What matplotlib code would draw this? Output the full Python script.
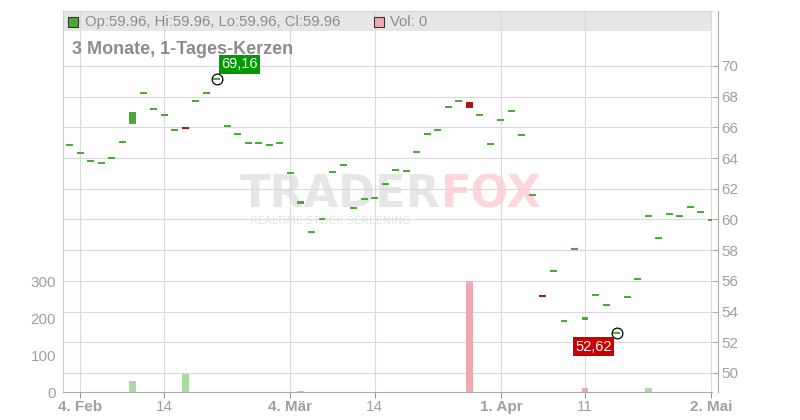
import matplotlib
matplotlib.use('Agg')
import matplotlib.pyplot as plt
from matplotlib.patches import Rectangle
import numpy as np
import pandas as pd

plt.rcParams['font.family'] = ['Liberation Sans', 'DejaVu Sans']

# trading days (German holidays left out)
holidays = ['2025-04-18', '2025-04-21', '2025-05-01']
dates = pd.bdate_range('2025-02-03', '2025-05-02')
dates = dates[~dates.isin(pd.to_datetime(holidays))]

closes = [64.83, 64.31, 63.81, 63.66, 63.99, 65.03, 67.00, 68.22, 67.18, 66.79,
          65.81, 65.90, 67.70, 68.22, 69.16, 66.07, 65.55, 64.96, 64.96, 64.83,
          64.96, 63.00, 61.20, 59.17, 60.00, 63.08, 63.53, 60.73, 61.32, 61.38,
          62.29, 63.20, 63.14, 64.38, 65.55, 65.81, 67.31, 67.70, 67.28, 66.79,
          64.90, 66.46, 67.05, 65.48, 61.58, 54.97, 56.62, 53.37, 58.06, 53.65,
          55.06, 54.41, 52.62, 54.93, 56.10, 60.21, 58.78, 60.34, 60.21, 60.80,
          60.47, 59.96]
opens = [64.83, 64.31, 63.81, 63.66, 63.99, 65.03, 66.24, 68.22, 67.18, 66.79,
         65.81, 65.98, 67.70, 68.22, 69.16, 66.07, 65.55, 64.96, 64.96, 64.83,
         64.96, 63.00, 61.03, 59.17, 60.00, 63.08, 63.53, 60.73, 61.32, 61.38,
         62.29, 63.20, 63.14, 64.38, 65.55, 65.81, 67.31, 67.70, 67.65, 66.79,
         64.90, 66.46, 67.05, 65.48, 61.58, 55.08, 56.62, 53.37, 58.06, 53.47,
         55.06, 54.41, 52.62, 54.93, 56.10, 60.21, 58.78, 60.34, 60.21, 60.80,
         60.47, 59.96]
volumes = [0, 0, 0, 0, 0, 0, 30, 0, 0, 0,
           0, 50, 0, 0, 0, 0, 0, 0, 0, 0,
           0, 0, 3, 0, 0, 0, 0, 0, 0, 0,
           0, 0, 0, 0, 0, 0, 0, 0, 300, 0,
           0, 0, 0, 0, 0, 0, 0, 0, 0, 10,
           0, 0, 0, 0, 0, 10, 0, 0, 0, 0,
           0, 0]

tick_dates = ['2025-02-04', '2025-02-14', '2025-03-04', '2025-03-14',
              '2025-04-01', '2025-04-11', '2025-05-02']
tick_labels = ['4. Feb', '14', '4. Mär', '14', '1. Apr', '11', '2. Mai']
price_ticks = list(range(50, 71, 2))
vol_ticks = [0, 100, 200, 300]

x = np.arange(len(dates))
o = np.array(opens)
c = np.array(closes)
bottoms = np.minimum(o, c)
heights = np.abs(c - o)
thin = heights < 0.13
bottoms[thin] = (o[thin] + c[thin]) / 2 - 0.065
heights[thin] = 0.13
candle_colors = ['#4aaa35' if cc >= oo else '#b01515' for oo, cc in zip(opens, closes)]
prev = np.r_[c[0], c[:-1]]
vol_colors = ['#a8dba0' if cc >= pp else '#f0a8b2' for cc, pp in zip(c, prev)]

fig = plt.figure(figsize=(8, 4.2), dpi=100)
ax = fig.add_axes([63/800, 28/420, 649/800, 381/420])
ax_v = ax.twinx()

# candles
ax.bar(x, heights, 0.66, bottom=bottoms, color=candle_colors, zorder=3)

# high / low markers
i_hi = int(np.argmax(c))
i_lo = int(np.argmin(c))
ax.plot([x[i_hi], x[i_lo]], [c[i_hi], c[i_lo]], 'o', mfc='none', mec='black',
        ms=7.7, mew=0.9, zorder=4)
ax.annotate(f'{c[i_hi]:.2f}'.replace('.', ','), (x[i_hi], c[i_hi]),
            xytext=(4.5, 7.5), textcoords='offset pixels', ha='left', va='bottom',
            color='white', fontsize=10.5,
            bbox=dict(boxstyle='square,pad=0.15', fc='#009900', ec='none'), zorder=5)
ax.annotate(f'{c[i_lo]:.2f}'.replace('.', ','), (x[i_lo], c[i_lo]),
            xytext=(-4.9, -6.9), textcoords='offset pixels', ha='right', va='top',
            color='white', fontsize=10.5,
            bbox=dict(boxstyle='square,pad=0.15', fc='#cc0000', ec='none'), zorder=5)

# volume
ax_v.bar(x, volumes, 0.66, color=vol_colors)

ax.set_xlim(-0.62, 61.07)
ax.set_ylim(48.76, 73.58)
ax_v.set_ylim(0, 1030)

ax.set_xticks([dates.get_loc(pd.Timestamp(d)) for d in tick_dates])
ax.set_xticklabels(tick_labels)
for lbl in ax.get_xticklabels():
    if not lbl.get_text().isdigit():
        lbl.set_fontweight('bold')
ax.yaxis.tick_right()
ax.set_yticks(price_ticks)
ax_v.yaxis.tick_left()
ax_v.set_yticks(vol_ticks)

ax.grid(True, color='#d9d9d9', lw=0.8)
ax.set_axisbelow(True)

ax.tick_params(axis='y', direction='in', length=4, color='#aaaaaa',
               labelcolor='#a0a0a0', labelsize=11, pad=3)
ax.tick_params(axis='x', length=4, color='#999999', labelcolor='#a0a0a0',
               labelsize=11, pad=2)
ax_v.tick_params(axis='y', length=0, labelcolor='#a0a0a0', labelsize=11, pad=5)

ax.spines['right'].set_position(('outward', 4))
ax.spines['right'].set_color('#aaaaaa')
ax.spines['bottom'].set_color('#aaaaaa')
ax.spines['left'].set_color('#d0d0d0')
ax.spines['top'].set_color('#d0d0d0')
for s in ax_v.spines.values():
    s.set_visible(False)

# legend band
ax.add_patch(Rectangle((0, 1 - 20/381), 1, 20/381, transform=ax.transAxes,
                       fc='#e6e6e6', ec='none', zorder=0.3))

# watermark
ax.text(240/800, 1 - 207/420, 'TRADER', transform=fig.transFigure, fontsize=32,
        fontweight='bold', family='DejaVu Sans', color='#e6e6e6', va='baseline', zorder=0.4)
ax.text(441/800, 1 - 207/420, 'FOX', transform=fig.transFigure, fontsize=32,
        fontweight='bold', family='DejaVu Sans', color='#fcd6da', va='baseline', zorder=0.4)
ax.text(250/800, 1 - 224/420, 'REALTIME STOCK SCREENING', transform=fig.transFigure,
        fontsize=7.8, family='DejaVu Sans', color='#e6e6e6', va='baseline', zorder=0.4)

# legend row and title
fig.add_artist(Rectangle((68.3/800, 1 - 26.7/420), 10/800, 10/420, transform=fig.transFigure,
                         fc='#4aaa35', ec='#333333', lw=0.8))
fig.text(85/800, 1 - 26/420,
         f'Op:{opens[-1]:.2f}, Hi:{max(opens[-1], closes[-1]):.2f}, '
         f'Lo:{min(opens[-1], closes[-1]):.2f}, Cl:{closes[-1]:.2f}',
         fontsize=10.7, color='#8c8c8c', va='baseline')
fig.add_artist(Rectangle((374.3/800, 1 - 26.7/420), 10/800, 10/420, transform=fig.transFigure,
                         fc='#f0a8b2', ec='#333333', lw=0.8))
fig.text(390/800, 1 - 26/420, f'Vol: {volumes[-1]}', fontsize=10.7, color='#8c8c8c',
         va='baseline')
fig.text(72/800, 1 - 54/420, '3 Monate, 1-Tages-Kerzen', fontsize=13, fontweight='bold',
         color='#8c8c8c', va='baseline')

fig.savefig('out.png', dpi=100)
